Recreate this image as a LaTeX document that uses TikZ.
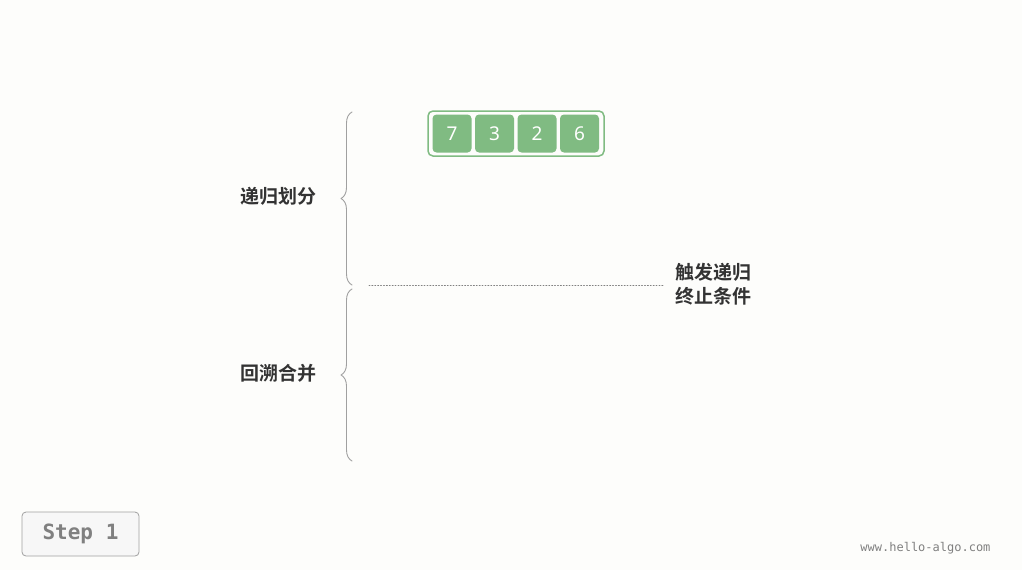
\documentclass[tikz,border=0pt]{standalone}
\usepackage{fontspec}
\setmainfont{Noto Sans}
\newfontfamily\cjk{Noto Sans CJK SC}[BoldFont={Noto Sans CJK SC Bold}]
\setmonofont{DejaVu Sans Mono}
\usetikzlibrary{decorations.pathreplacing}
\definecolor{bg}{HTML}{FDFDFB}
\definecolor{cellgreen}{HTML}{80BB82}
\definecolor{bracegray}{HTML}{A0A0A0}
\definecolor{txt}{HTML}{333333}
\tikzset{
  cell/.style={fill=cellgreen, rounded corners=4pt, minimum width=39pt, minimum height=38pt, text=white, font=\fontsize{19}{19}\selectfont},
  lbl/.style={text=txt, font=\cjk\bfseries\fontsize{19}{24}\selectfont},
  bracket/.style={draw=bracegray, line width=0.9pt, decorate, decoration={brace, amplitude=11pt}}
}
\begin{document}
\begin{tikzpicture}[x=1pt, y=-1pt, line join=round, line cap=round]
	\fill[bg] (0,0) rectangle (1022,570);
	\useasboundingbox (0,0) rectangle (1022,570);
	% array
	\node[draw=cellgreen, line width=1.5pt, rounded corners=5pt, minimum width=176pt, minimum height=45pt] (arr) at (516,133.5) {};
	\foreach \v [count=\i from 0] in {7,3,2,6}
		\node[cell] (c\i) at (452+42.5*\i,133.5) {\v};
	% braces
	\coordinate (ua) at (352,285); \coordinate (ub) at (352,112);
	\coordinate (la) at (352,461); \coordinate (lb) at (352,289);
	\draw[bracket] (ua)--(ub);
	\draw[bracket] (la)--(lb);
	\node[lbl] (div) at (278,196) {递归划分};
	\node[lbl] (mrg) at (278,373) {回溯合并};
	% termination
	\coordinate (da) at (369,285); \coordinate (db) at (664,285);
	\node[lbl, anchor=west, align=left] (stop) at (672,284) {触发递归\\终止条件};
	\draw[gray, dotted, line width=0.9pt] (da)--(db);
	% footer
	\node[draw=bracegray, fill=white!97!black, rounded corners=4pt, line width=0.8pt, minimum width=117pt, minimum height=44pt, text=gray, font=\ttfamily\bfseries\fontsize{21}{21}\selectfont] (step) at (80.5,534) {Step 1};
	\node[text=gray, font=\ttfamily\fontsize{12}{12}\selectfont, anchor=east] (url) at (994,548) {www.hello-algo.com};
\end{tikzpicture}
\end{document}
